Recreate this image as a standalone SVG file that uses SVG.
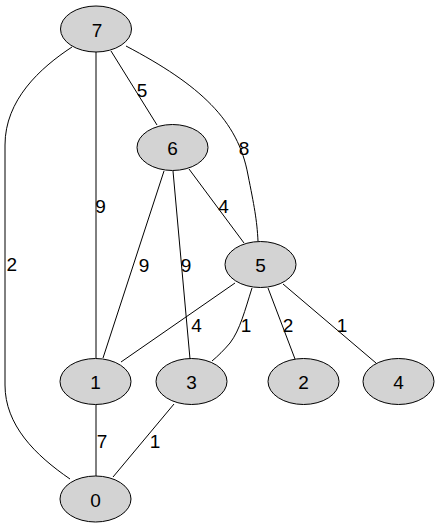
<svg xmlns="http://www.w3.org/2000/svg" width="440" height="528" viewBox="0 0 440 528">
<style>
.n ellipse{fill:#d3d3d3;stroke:#000;stroke-width:1}
text{font-family:"Liberation Sans",Arial,sans-serif;font-size:19px;fill:#000;text-anchor:middle}
.e path{fill:none;stroke:#000;stroke-width:1}
</style>
<rect width="440" height="528" fill="#fff"/>
<g class="e" id="edges">
<path d="M72,47 C40,68 5,100 5,145 L5,385 C5,425 35,455 70,479"/>
<path d="M96,52 L96,358"/>
<path d="M111,51 L157,125"/>
<path d="M126,46 C200,85 238,120 248,175 C254,205 257,220 258,241"/>
<path d="M189,169 L244,243"/>
<path d="M164,171 L103,358"/>
<path d="M173,171 L190,359"/>
<path d="M235,283 L121,362"/>
<path d="M252,288 C245,310 240,330 230,343 C224,350 218,356 212,361"/>
<path d="M268,288 L295,359"/>
<path d="M283,284 L376,363"/>
<path d="M96,405 L96,476"/>
<path d="M174,404 L113,477"/>
<text x="11.7" y="271">2</text>
<text x="100.5" y="213">9</text>
<text x="142" y="97">5</text>
<text x="244" y="155">8</text>
<text x="223.5" y="213">4</text>
<text x="144" y="272">9</text>
<text x="186" y="272">9</text>
<text x="196.5" y="332">4</text>
<text x="246" y="332">1</text>
<text x="288" y="332">2</text>
<text x="342" y="332">1</text>
<text x="102" y="448">7</text>
<text x="155" y="448">1</text>
</g>
<g class="n" id="n7"><ellipse cx="96" cy="29" rx="35.5" ry="23"/><text x="97" y="36.5">7</text></g>
<g class="n" id="n6"><ellipse cx="172.5" cy="147.5" rx="35.5" ry="23"/><text x="172.5" y="155">6</text></g>
<g class="n" id="n5"><ellipse cx="260.5" cy="264.5" rx="35.5" ry="23"/><text x="260.5" y="272">5</text></g>
<g class="n" id="n1"><ellipse cx="95.5" cy="381.5" rx="35.5" ry="23"/><text x="95.5" y="389">1</text></g>
<g class="n" id="n3"><ellipse cx="191.5" cy="381.5" rx="35.5" ry="23"/><text x="191.5" y="389">3</text></g>
<g class="n" id="n2"><ellipse cx="303.5" cy="381.5" rx="35.5" ry="23"/><text x="303.5" y="389">2</text></g>
<g class="n" id="n4"><ellipse cx="398.5" cy="381.5" rx="35.5" ry="23"/><text x="398.5" y="389">4</text></g>
<g class="n" id="n0"><ellipse cx="95.5" cy="499" rx="35.5" ry="23"/><text x="95.5" y="506.5">0</text></g>
</svg>
